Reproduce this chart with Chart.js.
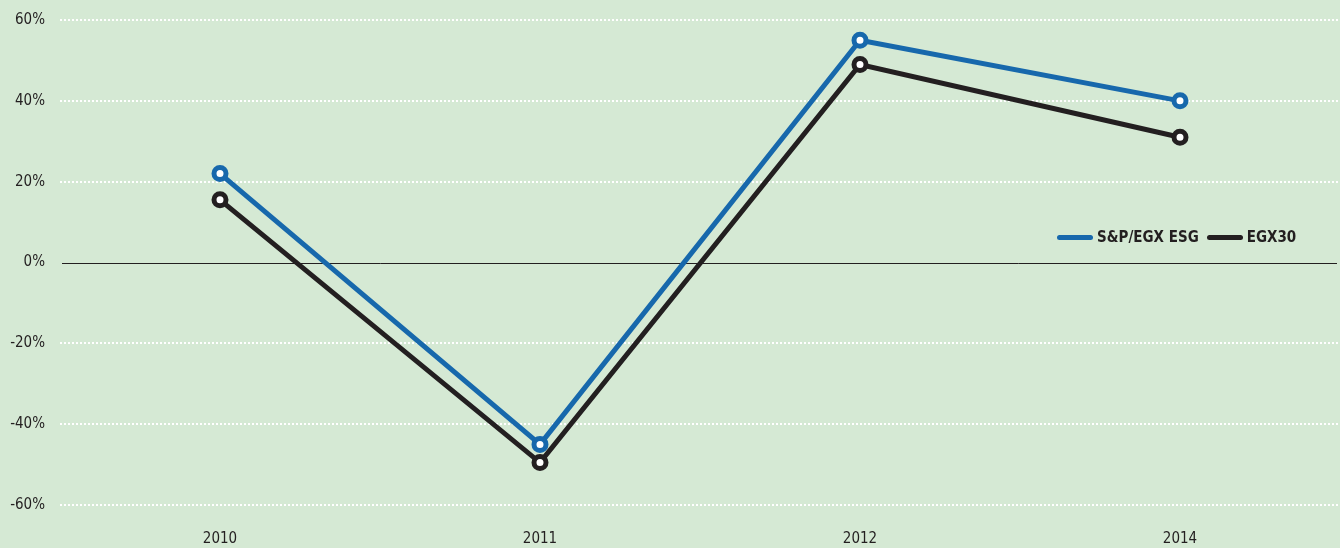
<!DOCTYPE html>
<html>
<head>
<meta charset="utf-8">
<script src="https://cdn.jsdelivr.net/npm/chart.js@4/dist/chart.umd.min.js"></script>
<style>
  html, body { margin: 0; padding: 0; background: #d5e9d4; overflow: hidden; }
  #wrap { position: relative; width: 1340px; height: 548px; }
  #legend {
    position: absolute; left: 1057px; top: 228px;
    font-family: "Liberation Sans Narrow", "DejaVu Sans Condensed", "Liberation Sans", Arial, sans-serif;
    font-weight: bold; font-size: 15px; color: #231f20;
    display: flex; align-items: center;
  }
  #legend span.sw { display: inline-block; width: 36px; height: 5px; border-radius: 3px; margin-right: 4px; }
  #legend span.item { display: flex; align-items: center; margin-right: 8px; }
</style>
</head>
<body>
<div id="wrap">
  <canvas id="chart" width="1340" height="548"></canvas>
  <div id="legend">
    <span class="item"><span class="sw" style="background:#1768ac"></span>S&amp;P/EGX ESG</span>
    <span class="item"><span class="sw" style="background:#231f20"></span>EGX30</span>
  </div>
</div>
<script>
const years = ['2010', '2011', '2012', '2014'];
const espEsg = [22, -45, 55, 40];
const egx30 = [15.5, -49.5, 49, 31];
const yTicks = [-60, -40, -20, 0, 20, 40, 60];

// solid thin line at 0%, drawn over the dotted grid
const zeroLine = {
    id: 'zeroLine',
    beforeDatasetsDraw(chart) {
        const y = Math.round(chart.scales.y.getPixelForValue(0)) + 0.5;
        const c = chart.ctx;
        c.save();
        c.strokeStyle = '#231f20';
        c.lineWidth = 1;
        c.beginPath();
        c.moveTo(chart.chartArea.left + 2, y);
        c.lineTo(chart.chartArea.right - 3, y);
        c.stroke();
        c.restore();
    }
};

document.addEventListener('DOMContentLoaded', function () {
    const ctx = document.getElementById('chart').getContext('2d');
    const font = { family: '"Liberation Sans Narrow", "DejaVu Sans Condensed", "Liberation Sans", Arial, sans-serif', size: 15 };

    new Chart(ctx, {
        type: 'line',
        data: {
            labels: years,
            datasets: [{
                label: 'S&P/EGX ESG',
                data: espEsg,
                borderColor: '#1768ac',
                borderWidth: 5,
                pointBackgroundColor: '#ffffff',
                pointBorderColor: '#1768ac',
                pointBorderWidth: 5,
                pointRadius: 6,
                tension: 0
            }, {
                label: 'EGX30',
                data: egx30,
                borderColor: '#231f20',
                borderWidth: 5,
                pointBackgroundColor: '#ffffff',
                pointBorderColor: '#231f20',
                pointBorderWidth: 5,
                pointRadius: 6,
                tension: 0
            }]
        },
        plugins: [zeroLine],
        options: {
            responsive: false,
            animation: false,
            layout: { autoPadding: false, padding: { top: 20, right: 0, left: 0, bottom: 0 } },
            plugins: { legend: { display: false }, tooltip: { enabled: false } },
            scales: {
                x: {
                    offset: true,
                    afterFit: function (scale) {
                        scale.height = 43;
                        scale.paddingLeft = 0;
                        scale.paddingRight = 0;
                    },
                    grid: { display: false, drawTicks: false },
                    border: { display: false },
                    ticks: { color: '#231f20', font: font, padding: 25 }
                },
                y: {
                    min: -60, max: 60,
                    afterFit: function (scale) {
                        scale.width = 60;
                        scale.paddingTop = 0;
                        scale.paddingBottom = 0;
                    },
                    afterBuildTicks: function (scale) { scale.ticks = yTicks.map(v => ({ value: v })); },
                    border: { display: false, dash: [2, 2] },
                    grid: {
                        drawTicks: false,
                        color: c => c.tick && c.tick.value === 0 ? 'rgba(0,0,0,0)' : '#ffffff',
                        lineWidth: 2
                    },
                    ticks: {
                        color: '#231f20', font: font, padding: 15,
                        callback: v => v + '%'
                    }
                }
            }
        }
    });
});
</script>
</body>
</html>
